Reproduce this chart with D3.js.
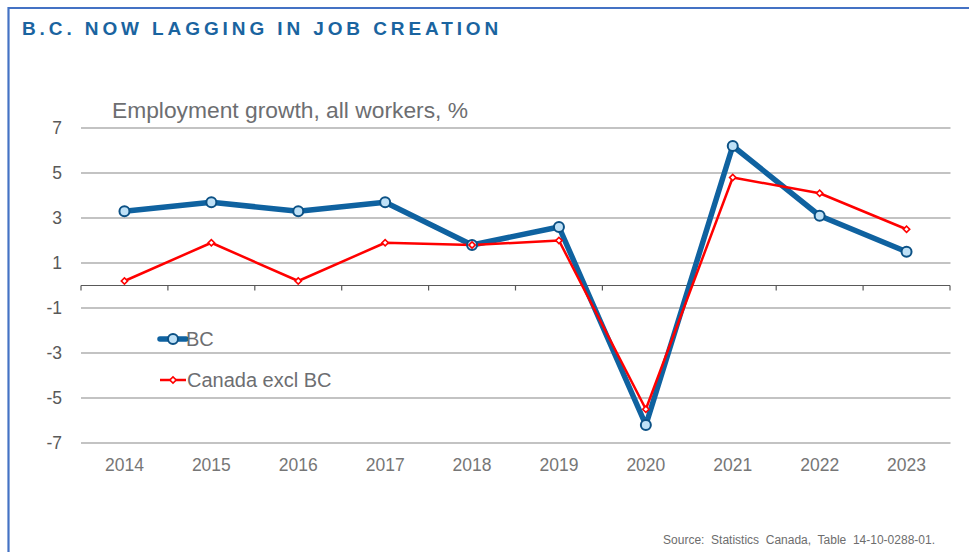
<!DOCTYPE html>
<html><head><meta charset="utf-8">
<script src="https://cdn.jsdelivr.net/npm/d3@7"></script>
<style>
html,body{margin:0;padding:0;background:#fff;}
svg{display:block;font-family:"Liberation Sans",Arial,sans-serif;}
</style></head>
<body>
<svg id="chart" width="969" height="552"></svg>
<script>
const years = ["2014","2015","2016","2017","2018","2019","2020","2021","2022","2023"];
const bcValues = [3.3, 3.7, 3.3, 3.7, 1.8, 2.6, -6.2, 6.2, 3.1, 1.5];
const canadaValues = [0.2, 1.9, 0.2, 1.9, 1.8, 2.0, -5.5, 4.8, 4.1, 2.5];
const yTicks = [7, 5, 3, 1, -1, -3, -5, -7];
const seriesNames = ["BC", "Canada excl BC"];
const titleText = "B.C. NOW LAGGING IN JOB CREATION";
const subtitleText = "Employment growth, all workers, %";
const sourceText = "Source:  Statistics  Canada,  Table  14-10-0288-01.";

const svg = d3.select("#chart");

// frame
svg.append("line").attr("x1", 8.5).attr("x2", 969).attr("y1", 8).attr("y2", 8)
  .attr("stroke", "#4472c4").attr("stroke-width", 2.2);
svg.append("line").attr("x1", 8.5).attr("x2", 8.5).attr("y1", 7).attr("y2", 552)
  .attr("stroke", "#4472c4").attr("stroke-width", 2.2);

svg.append("text").attr("x", 22).attr("y", 35)
  .attr("font-size", 19).attr("font-weight", "bold").attr("fill", "#1a64a0")
  .attr("letter-spacing", "3.9px").text(titleText);

const x = d3.scaleBand().domain(years).range([81, 950]);
const y = d3.scaleLinear().domain([-7, 7]).range([443, 128]);

const g = svg.append("g");

// gridlines
g.selectAll("line.grid").data(yTicks).join("line").attr("class", "grid")
  .attr("x1", 81).attr("x2", 950.5)
  .attr("y1", d => y(d)).attr("y2", d => y(d))
  .attr("stroke", "#c3c3c3").attr("stroke-width", 1.8);

// y labels
const yAxis = d3.axisLeft(y).tickValues(yTicks).tickSize(0).tickPadding(0)
  .tickFormat(d => String(d));
const ya = g.append("g").attr("transform", "translate(62,0)").call(yAxis);
ya.select(".domain").remove();
ya.selectAll("text").attr("font-size", 17.5).attr("fill", "#595959")
  .attr("font-family", "Liberation Sans, Arial, sans-serif");

// x axis at zero
const xAxis = d3.axisBottom(x).tickSize(0).tickPadding(0);
const xa = g.append("g").attr("transform", `translate(0,${y(0)})`).call(xAxis);
xa.select(".domain").attr("stroke", "#595959").attr("stroke-width", 1.2).attr("d", `M81,0H950`);
xa.selectAll("text").attr("font-size", 17.5).attr("fill", "#767676")
  .attr("font-family", "Liberation Sans, Arial, sans-serif")
  .attr("y", 0).attr("dy", 0)
  .attr("transform", `translate(0,${471 - y(0)})`);
// boundary ticks
const bounds = years.map(d => x(d)).concat([x(years[years.length-1]) + x.bandwidth()]);
xa.selectAll("line.bt").data(bounds).join("line").attr("class", "bt")
  .attr("x1", d => d).attr("x2", d => d).attr("y1", 0).attr("y2", 5)
  .attr("stroke", "#595959").attr("stroke-width", 1.2);

const cx = d => x(d) + x.bandwidth() / 2;

const canData = years.map((yr, i) => ({yr, v: canadaValues[i]}));
const bcData = years.map((yr, i) => ({yr, v: bcValues[i]}));
const line = d3.line().x(d => cx(d.yr)).y(d => y(d.v));

g.append("path").datum(bcData).attr("d", line).attr("fill", "none")
  .attr("stroke", "#0f62a0").attr("stroke-width", 5.5).attr("stroke-linejoin", "round");
g.append("path").datum(canData).attr("d", line).attr("fill", "none")
  .attr("stroke", "#ff0000").attr("stroke-width", 2.5).attr("stroke-linejoin", "round");

const diamond = d3.symbol().type(d3.symbolSquare).size(20);

g.selectAll("circle.bc").data(bcData).join("circle").attr("class", "bc")
  .attr("cx", d => cx(d.yr)).attr("cy", d => y(d.v)).attr("r", 5)
  .attr("fill", "#bfe1f7").attr("stroke", "#0c5185").attr("stroke-width", 2);
g.selectAll("path.can").data(canData).join("path").attr("class", "can")
  .attr("d", diamond).attr("transform", d => `translate(${cx(d.yr)},${y(d.v)}) rotate(45)`)
  .attr("fill", "#fff").attr("stroke", "#ff0000").attr("stroke-width", 1.6);

// legend
const lg = svg.append("g");
lg.append("line").attr("x1", 160).attr("x2", 186).attr("y1", 339).attr("y2", 339)
  .attr("stroke", "#0f62a0").attr("stroke-width", 5.5).attr("stroke-linecap", "round");
lg.append("circle").attr("cx", 173).attr("cy", 339).attr("r", 5)
  .attr("fill", "#bfe1f7").attr("stroke", "#0c5185").attr("stroke-width", 2);
lg.append("text").attr("x", 186).attr("y", 346).attr("font-size", 20).attr("fill", "#6d6e71").text(seriesNames[0]);
lg.append("line").attr("x1", 160).attr("x2", 186).attr("y1", 380).attr("y2", 380)
  .attr("stroke", "#ff0000").attr("stroke-width", 2.5);
lg.append("path").attr("d", diamond).attr("transform", "translate(173,380) rotate(45)")
  .attr("fill", "#fff").attr("stroke", "#ff0000").attr("stroke-width", 1.6);
lg.append("text").attr("x", 187).attr("y", 387).attr("font-size", 20).attr("fill", "#6d6e71").text(seriesNames[1]);

// subtitle
svg.append("text").attr("x", 112).attr("y", 118).attr("font-size", 22.8)
  .attr("fill", "#6d6e71").text(subtitleText);

// source
svg.append("text").attr("x", 935).attr("y", 544).attr("text-anchor", "end")
  .attr("font-size", 12).attr("fill", "#6d6d6d").attr("xml:space", "preserve")
  .style("white-space", "pre").text(sourceText);
</script>
</body></html>
